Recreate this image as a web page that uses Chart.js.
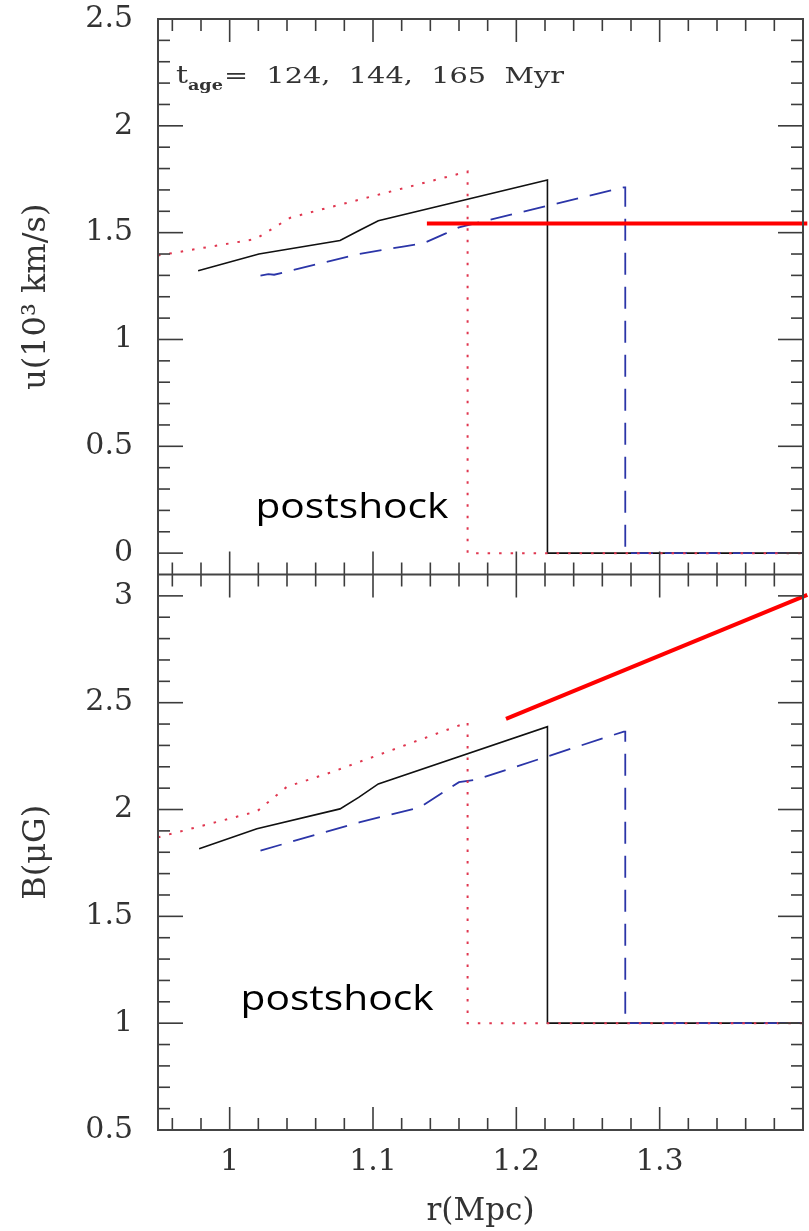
<!DOCTYPE html>
<html><head><meta charset="utf-8">
<script src="https://cdn.jsdelivr.net/npm/chart.js@4/dist/chart.umd.min.js"></script>
<style>html,body{margin:0;padding:0;background:#fff;}canvas{display:block;}</style>
</head><body>
<canvas id="c" width="809" height="1231"></canvas>
<script>
// ---------- tick labels ----------
const rTickLabels = [1, 1.1, 1.2, 1.3];
const uTickLabels = [0, 0.5, 1, 1.5, 2, 2.5];
const bTickLabels = [0.5, 1, 1.5, 2, 2.5, 3];
const ages = [124, 144, 165];

// ---------- top panel: u (10^3 km/s) ----------
const uRedR   = [0.95, 1.018, 1.042, 1.0586, 1.166, 1.166, 1.40];
const uRedV   = [1.393, 1.47, 1.569, 1.599, 1.786, 0, 0];
const uBlackR = [0.978, 1.0204, 1.077, 1.090, 1.1037, 1.2217, 1.2217, 1.40];
const uBlackV = [1.322, 1.40, 1.463, 1.509, 1.556, 1.746, 0, 0];
const uBlueR  = [1.0215, 1.027, 1.031, 1.0898, 1.121, 1.135, 1.15, 1.16, 1.275, 1.276, 1.276, 1.40];
const uBlueV  = [1.299, 1.306, 1.303, 1.40, 1.435, 1.45, 1.494, 1.525, 1.712, 1.712, 0, 0];

// ---------- bottom panel: B (muG) ----------
const bRedR   = [0.95, 1.019, 1.040, 1.0678, 1.166, 1.166, 1.40];
const bRedV   = [1.870, 1.991, 2.107, 2.167, 2.408, 1.0, 1.0];
const bBlackR = [0.9787, 1.019, 1.077, 1.090, 1.1037, 1.2217, 1.2217, 1.40];
const bBlackV = [1.816, 1.91, 2.003, 2.057, 2.12, 2.388, 1.0, 1.0];
const bBlueR  = [1.0215, 1.091, 1.1326, 1.160, 1.172, 1.275, 1.276, 1.276, 1.40];
const bBlueV  = [1.808, 1.941, 2.01, 2.128, 2.140, 2.365, 2.365, 1.0, 1.0];

// ---------- red annotation strokes ----------
const annoTopR = [1.1376, 1.403];
const annoTopV = [1.543, 1.543];
const annoBotR = [1.1928, 1.403];
const annoBotV = [2.424, 3.005];

const zip = (xs, ys) => xs.map((x, i) => ({x: x, y: ys[i]}));

const RED = '#e0364f', BLUE = '#2b35a8', BLACK = '#111';
const serif = '"DejaVu Serif", "Liberation Serif", serif';

function line(data, yAxisID, color, width, dash, extra) {
  return Object.assign({
    data: data, yAxisID: yAxisID, showLine: true, borderColor: color,
    backgroundColor: color, borderWidth: width, borderDash: dash,
    pointRadius: 0, pointHoverRadius: 0, fill: false, tension: 0
  }, extra || {});
}

const framePlugin = {
  id: 'frameTicks',
  afterDatasetsDraw(chart) {
    const ctx = chart.ctx;
    const xs = chart.scales.x, yu = chart.scales.yU, yb = chart.scales.yB;
    const L = xs.left, R = xs.right;
    const xTick = [];
    for (let i = 0; i <= 25; i++) xTick.push(0.94 + i * 0.02);
    ctx.save();
    ctx.strokeStyle = '#3c3c3c';
    ctx.lineWidth = 1.6;
    const seg = (x1, y1, x2, y2) => { ctx.beginPath(); ctx.moveTo(x1, y1); ctx.lineTo(x2, y2); ctx.stroke(); };
    const yTicks = (scale, lo, hi) => {
      for (let k = Math.round(lo * 10); k <= Math.round(hi * 10); k++) {
        const py = scale.getPixelForValue(k / 10);
        const len = (k % 5 === 0) ? 25 : 12;
        seg(L, py, L + len, py);
        seg(R, py, R - len, py);
      }
    };
    yTicks(yu, 0, 2.5);
    yTicks(yb, 0.5, 3.0);
    const topY = yu.top, midY = yu.bottom, botY = yb.bottom;
    xTick.forEach(v => {
      if (v < 0.951 || v > 1.399) return;
      const px = xs.getPixelForValue(v);
      const major = Math.abs(Math.round(v * 10) - v * 10) < 1e-6;
      const len = major ? 23 : 12;
      seg(px, topY, px, topY + len);
      seg(px, midY - len, px, midY + len);
      seg(px, botY, px, botY - len);
    });
    ctx.strokeStyle = '#444';
    ctx.lineWidth = 2;
    ctx.strokeRect(L, topY, R - L, botY - topY);
    seg(L, midY, R, midY);
    ctx.restore();
  },
  afterDraw(chart) {
    const ctx = chart.ctx;
    const xs = chart.scales.x, yu = chart.scales.yU, yb = chart.scales.yB;
    const scaledText = (text, x, y, font, width) => {
      ctx.save();
      ctx.font = font;
      const w = ctx.measureText(text).width;
      ctx.translate(x, y);
      ctx.scale(width ? width / w : 1, 1);
      ctx.fillText(text, 0, 0);
      ctx.restore();
    };
    ctx.save();
    ctx.textBaseline = 'alphabetic';
    ctx.textAlign = 'left';
    ctx.fillStyle = '#333';
    const x0 = xs.getPixelForValue(0.9625), y0 = yu.getPixelForValue(2.201);
    scaledText('t', x0, y0, '24px ' + serif, 12);
    scaledText('age', x0 + 12, y0 + 7, 'bold 15px ' + serif, 35);
    scaledText('=  ' + ages.join(',  ') + '  Myr', x0 + 48, y0, '23px ' + serif, 340);
    ctx.fillStyle = '#000';
    const sans = '34px "Open Sans", "Noto Sans", sans-serif';
    scaledText('postshock', xs.getPixelForValue(1.018), yu.getPixelForValue(0.164), sans, 193);
    scaledText('postshock', xs.getPixelForValue(1.0076), yb.getPixelForValue(1.061), sans, 193);
    ctx.restore();
  }
};

const tickFont = {family: serif, size: 30};
const yCommon = (min, max, labels, title) => ({
  type: 'linear', position: 'left', stack: 'panels', stackWeight: 1,
  min: min, max: max,
  grid: {display: false, drawTicks: false},
  border: {display: false},
  afterBuildTicks: s => { s.ticks = labels.map(v => ({value: v})); },
  afterFit: s => { s.width = 158; s.paddingTop = 0; s.paddingBottom = 0; },
  ticks: {font: tickFont, color: '#333', padding: 25, autoSkip: false, callback: v => String(v)},
  title: {display: true, text: title, font: {family: serif, size: 32}, color: '#333', padding: {top: 17, bottom: 0}}
});

new Chart(document.getElementById('c'), {
  type: 'scatter',
  data: {
    datasets: [
      line(zip(annoTopR, annoTopV), 'yU', '#ff0000', 4, [], {clip: false}),
      line(zip(annoBotR, annoBotV), 'yB', '#ff0000', 4, [], {clip: false}),
      line(zip(uRedR, uRedV), 'yU', RED, 2, [2.5, 9]),
      line(zip(uBlueR, uBlueV), 'yU', BLUE, 1.8, [22, 12]),
      line(zip(uBlackR, uBlackV), 'yU', BLACK, 1.6, []),
      line(zip(bRedR, bRedV), 'yB', RED, 2, [2.5, 9]),
      line(zip(bBlueR, bBlueV), 'yB', BLUE, 1.8, [22, 12]),
      line(zip(bBlackR, bBlackV), 'yB', BLACK, 1.6, [])
    ]
  },
  options: {
    responsive: false,
    devicePixelRatio: 1,
    animation: false,
    layout: {padding: {left: 0, right: 6, top: 19, bottom: 0}},
    plugins: {legend: {display: false}, tooltip: {enabled: false}},
    scales: {
      x: {
        type: 'linear', position: 'bottom', min: 0.95, max: 1.4,
        grid: {display: false, drawTicks: false},
        border: {display: false},
        afterBuildTicks: s => { s.ticks = rTickLabels.map(v => ({value: v})); },
        afterFit: s => { s.height = 101; s.paddingLeft = 0; s.paddingRight = 0; },
        ticks: {font: tickFont, color: '#333', padding: 14, autoSkip: false, maxRotation: 0, callback: v => String(v)},
        title: {display: true, text: 'r(Mpc)', font: {family: serif, size: 31}, color: '#333', padding: {top: 0, bottom: 0}}
      },
      yB: yCommon(0.5, 3.1, bTickLabels, 'B(μG)'),
      yU: yCommon(-0.1, 2.5, uTickLabels, 'u(10³ km/s)')
    }
  },
  plugins: [framePlugin]
});
</script>
</body></html>
